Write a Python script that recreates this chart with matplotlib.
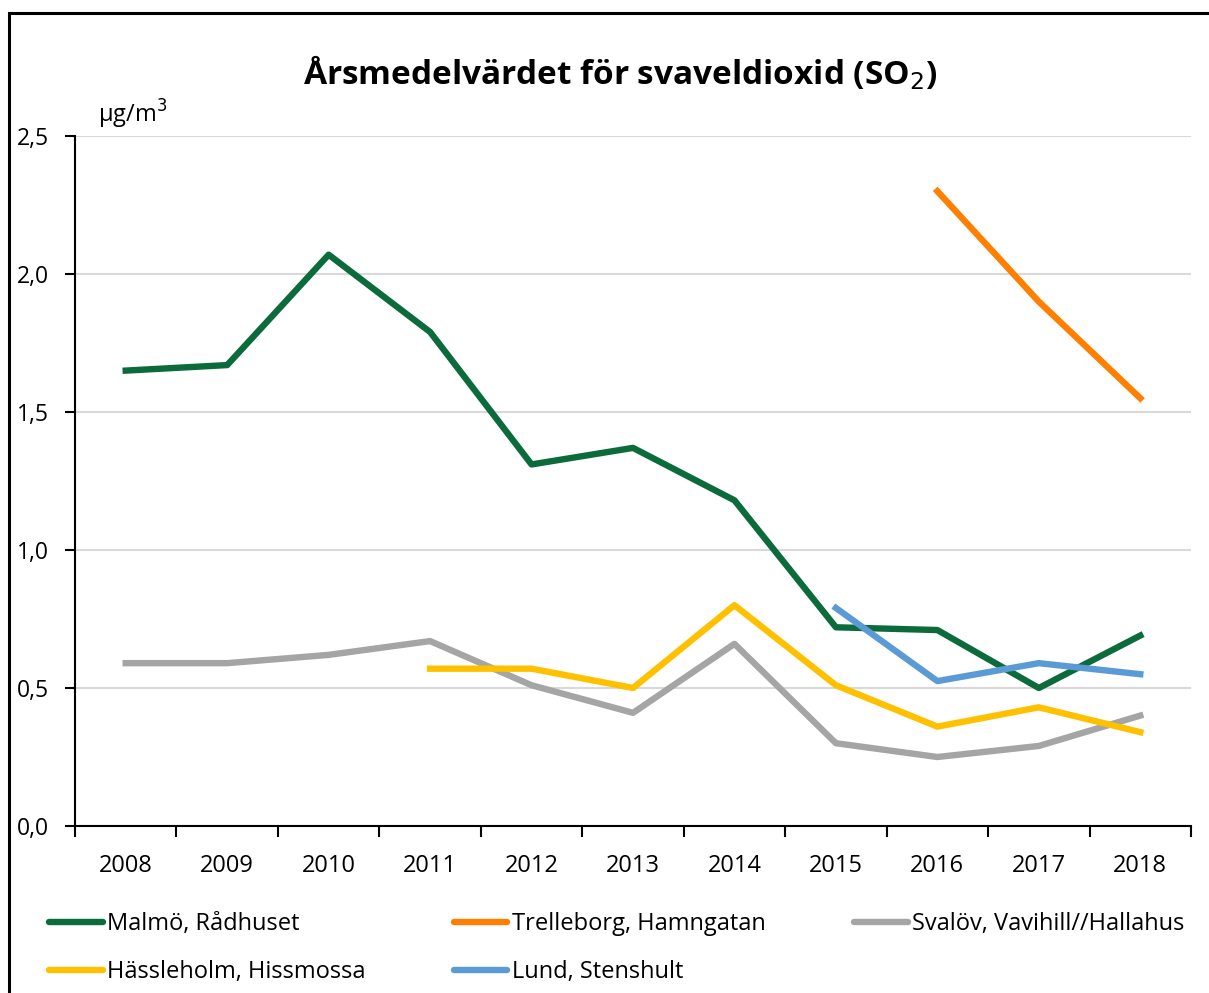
import numpy as np
import matplotlib.pyplot as plt
from matplotlib.patches import Rectangle
from matplotlib.ticker import FuncFormatter

plt.rcParams['font.family'] = ['Open Sans', 'DejaVu Sans']

years = ['2008', '2009', '2010', '2011', '2012', '2013', '2014', '2015',
         '2016', '2017', '2018']
nan = np.nan
malmo = [1.65, 1.67, 2.07, 1.79, 1.31, 1.37, 1.18, 0.72, 0.71, 0.50, 0.69]
trelleborg = [nan, nan, nan, nan, nan, nan, nan, nan, 2.30, 1.90, 1.55]
svalov = [0.59, 0.59, 0.62, 0.67, 0.51, 0.41, 0.66, 0.30, 0.25, 0.29, 0.40]
hassleholm = [nan, nan, nan, 0.57, 0.57, 0.50, 0.80, 0.51, 0.36, 0.43, 0.34]
lund = [nan, nan, nan, nan, nan, nan, nan, 0.79, 0.525, 0.59, 0.55]

x = np.arange(len(years))

fig = plt.figure(figsize=(12.09, 9.93), dpi=100)
ax = fig.add_axes([75 / 1209, 167 / 993, 1116 / 1209, 690 / 993])

# outer frame (only left and top edges visible in the original)
fig.patches.append(Rectangle((9 / 1209, -0.05), 1.2, (993 - 13) / 993 + 0.05,
                             transform=fig.transFigure, fill=False,
                             edgecolor='black', linewidth=2.2))

lw = 4.6
l_malmo, = ax.plot(x, malmo, color='#0b6b3b', lw=lw, label='Malmö, Rådhuset')
l_trel, = ax.plot(x, trelleborg, color='#ff7f00', lw=lw,
                  label='Trelleborg, Hamngatan')
l_sval, = ax.plot(x, svalov, color='#a5a5a5', lw=lw,
                  label='Svalöv, Vavihill//Hallahus')
l_hass, = ax.plot(x, hassleholm, color='#ffc000', lw=lw,
                  label='Hässleholm, Hissmossa')
l_lund, = ax.plot(x, lund, color='#5b9bd5', lw=lw, label='Lund, Stenshult')

ax.set_xlim(-0.5, len(years) - 0.5)
ax.set_ylim(0, 2.5)
ax.set_yticks(np.arange(0, 2.51, 0.5))
ax.yaxis.set_major_formatter(FuncFormatter(lambda v, p: f'{v:.1f}'.replace('.', ',')))
ax.grid(axis='y', color='#d9d9d9', lw=1.5)
ax.set_axisbelow(True)

ax.set_xticks(np.arange(-0.5, len(years), 1.0))
ax.set_xticklabels([])
ax.set_xticks(x, minor=True)
ax.set_xticklabels(years, minor=True)
ax.tick_params(axis='x', which='major', length=8, width=1.5, direction='out')
ax.tick_params(axis='x', which='minor', length=0, pad=20, labelsize=17)
ax.tick_params(axis='y', length=7, width=1.5, direction='out', pad=12,
               labelsize=16.5)

for s in ['top', 'right']:
    ax.spines[s].set_visible(False)
ax.spines['left'].set_linewidth(1.5)
ax.spines['bottom'].set_linewidth(1.5)

fig.text(0.513, 1 - 73 / 993, 'Årsmedelvärdet för svaveldioxid (SO$_2$)',
         ha='center', va='center', fontsize=24, fontweight='bold')
fig.text(98 / 1209, 1 - 114 / 993, 'µg/m$^3$', ha='left', va='center',
         fontsize=17)

handles = [l_malmo, l_hass, l_trel, l_lund, l_sval]
leg = fig.legend(handles, [h.get_label() for h in handles],
                 ncol=3, loc='upper left',
                 bbox_to_anchor=(40 / 1209, 1 - 903 / 993),
                 frameon=False, fontsize=17, handlelength=2.25,
                 handletextpad=0.2, columnspacing=3.75, labelspacing=1.0,
                 borderaxespad=0)
for lh in leg.get_lines():
    lh.set_solid_capstyle('round')

fig.savefig('out.png', dpi=100)
